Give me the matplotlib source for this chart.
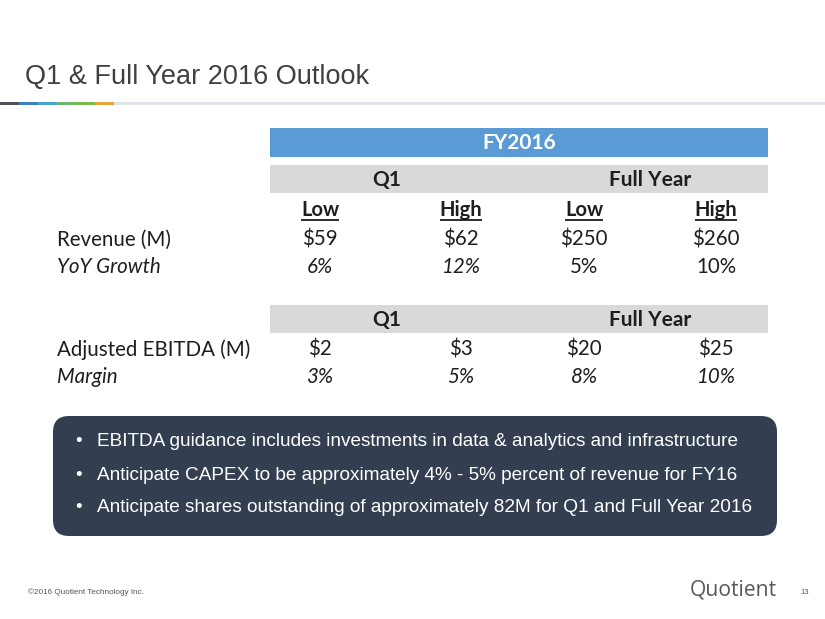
import matplotlib
matplotlib.use("Agg")
import matplotlib.pyplot as plt
from matplotlib.patches import Rectangle, FancyBboxPatch

# ---- data ----
title = "Q1 & Full Year 2016 Outlook"
header_top = "FY2016"
periods = ["Q1", "Full Year"]
bounds = ["Low", "High", "Low", "High"]
row_labels_1 = ["Revenue (M)", "YoY Growth"]
revenue = ["$59", "$62", "$250", "$260"]
yoy_growth = ["6%", "12%", "5%", "10%"]
yoy_italic = [True, True, False, False]
row_labels_2 = ["Adjusted EBITDA (M)", "Margin"]
ebitda = ["$2", "$3", "$20", "$25"]
margin = ["3%", "5%", "8%", "10%"]
bullets = [
    "EBITDA guidance includes investments in data & analytics and infrastructure",
    "Anticipate CAPEX to be approximately 4% - 5% percent of revenue for FY16",
    "Anticipate shares outstanding of approximately 82M for Q1 and Full Year 2016",
]
footer = "\u00a92016 Quotient Technology Inc."
logo = "Quotient"
page = "13"
stripe_colors = ["#4d5158", "#3f7fc0", "#4aa3c9", "#6ab86a", "#79b84a", "#e8a33a"]

# ---- layout ----
W, H = 825, 619
fig = plt.figure(figsize=(W / 100, H / 100), dpi=100)
ax = fig.add_axes([0, 0, 1, 1])
ax.set_xlim(0, W)
ax.set_ylim(H, 0)
ax.axis("off")

SANS = "Liberation Sans"
TAB = "Lato"
tcol = "#1e1e1e"

ax.text(25, 77, title, fontsize=19.5, family=SANS, color="#404040", va="center", ha="left")

# stripe
ax.add_patch(Rectangle((0, 101.5), W, 3, color="#dfe4ea", lw=0))
seg_w = 19
for i, c in enumerate(stripe_colors):
    ax.add_patch(Rectangle((i * seg_w, 101.5), seg_w, 3, color=c, lw=0))

x0, x1 = 270, 768
col_x = [320, 461, 584, 716]
period_x = [387, 650]

# FY2016 bar
ax.add_patch(Rectangle((x0, 128), x1 - x0, 29, color="#5b9bd5", lw=0))
ax.text((x0 + x1) / 2, 143, header_top, fontsize=15, family=TAB, weight="bold",
        color="white", ha="center", va="center")

def period_bar(y0):
    ax.add_patch(Rectangle((x0, y0), x1 - x0, 28, color="#d9d9d9", lw=0))
    for px, p in zip(period_x, periods):
        ax.text(px, y0 + 15, p, fontsize=15, family=TAB, weight="bold",
                color=tcol, ha="center", va="center")

period_bar(165)

# Low / High with underline
fig.canvas.draw()
renderer = fig.canvas.get_renderer()
inv = ax.transData.inverted()
for cx, b in zip(col_x, bounds):
    t = ax.text(cx, 210, b, fontsize=14.5, family=TAB, weight="bold",
                color=tcol, ha="center", va="center")
    bb = t.get_window_extent(renderer)
    (xa, ya), (xb, yb) = inv.transform([(bb.x0, bb.y0), (bb.x1, bb.y1)])
    ax.plot([xa, xb], [219.5, 219.5], color=tcol, lw=1.3, solid_capstyle="butt")

fs = 14.8
ax.text(57, 240, row_labels_1[0], fontsize=fs, family=TAB, color=tcol, va="center")
ax.text(57, 267, row_labels_1[1], fontsize=fs, family=TAB, style="italic", color=tcol, va="center")
for cx, v in zip(col_x, revenue):
    ax.text(cx, 240, v, fontsize=fs, family=TAB, color=tcol, ha="center", va="center")
for cx, v, it in zip(col_x, yoy_growth, yoy_italic):
    ax.text(cx, 267, v, fontsize=fs, family=TAB, style="italic" if it else "normal",
            color=tcol, ha="center", va="center")

period_bar(305)
ax.text(57, 350, row_labels_2[0], fontsize=fs, family=TAB, color=tcol, va="center")
ax.text(57, 377, row_labels_2[1], fontsize=fs, family=TAB, style="italic", color=tcol, va="center")
for cx, v in zip(col_x, ebitda):
    ax.text(cx, 350, v, fontsize=fs, family=TAB, color=tcol, ha="center", va="center")
for cx, v in zip(col_x, margin):
    ax.text(cx, 377, v, fontsize=fs, family=TAB, style="italic", color=tcol, ha="center", va="center")

# dark box
ax.add_patch(FancyBboxPatch((53, 416), 724, 120,
                            boxstyle="round,pad=0,rounding_size=16",
                            fc="#333f50", ec="none"))
for i, b in enumerate(bullets):
    y = 442 + i * 33
    ax.text(75, y, "\u2022", fontsize=13.5, family=SANS, color="white", va="center")
    ax.text(97, y, b, fontsize=13.65, family=SANS, color="white", va="center")

# footer
ax.text(28, 592, footer, fontsize=5.9, family=SANS, color="#555555", va="center")
ax.text(690, 590, logo, fontsize=15.2, family="Open Sans", color="#595959", va="center")
ax.text(800, 592, page, fontsize=5.5, family=SANS, color="#555555", va="center")

fig.savefig("out.png", dpi=100)
